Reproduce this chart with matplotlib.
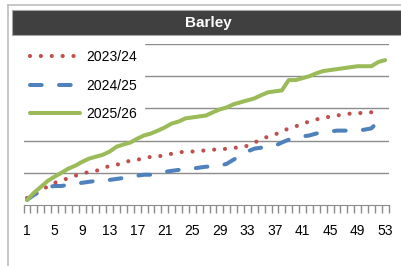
import numpy as np
import matplotlib.pyplot as plt
from matplotlib.patches import Rectangle
from matplotlib.lines import Line2D

plt.rcParams['font.family'] = ['Liberation Sans', 'DejaVu Sans']

title = 'Barley'
labels = ['2023/24', '2024/25', '2025/26']

weeks_2324 = list(range(1, 53))
vals_2324 = [0.22, 0.38, 0.50, 0.56, 0.69, 0.75, 0.84, 0.91, 0.97, 1.03,
             1.06, 1.13, 1.22, 1.25, 1.31, 1.38, 1.41, 1.44, 1.50, 1.50,
             1.56, 1.59, 1.63, 1.66, 1.66, 1.69, 1.69, 1.72, 1.72, 1.75,
             1.78, 1.78, 1.84, 1.94, 2.03, 2.13, 2.19, 2.28, 2.38, 2.44,
             2.53, 2.59, 2.66, 2.69, 2.75, 2.78, 2.81, 2.84, 2.84, 2.88,
             2.88, 2.91]

weeks_2425 = list(range(1, 53))
vals_2425 = [0.16, 0.31, 0.44, 0.56, 0.59, 0.59, 0.63, 0.66, 0.69, 0.72,
             0.75, 0.75, 0.78, 0.81, 0.84, 0.88, 0.91, 0.94, 0.94, 0.97,
             1.03, 1.06, 1.09, 1.09, 1.13, 1.16, 1.19, 1.19, 1.22, 1.28,
             1.41, 1.53, 1.66, 1.75, 1.78, 1.81, 1.84, 1.94, 2.03, 2.06,
             2.13, 2.16, 2.22, 2.25, 2.28, 2.31, 2.31, 2.31, 2.31, 2.34,
             2.38, 2.60]

weeks_2526 = list(range(1, 54))
vals_2526 = [0.16, 0.38, 0.56, 0.75, 0.88, 1.00, 1.13, 1.22, 1.34, 1.44,
             1.50, 1.56, 1.66, 1.81, 1.88, 1.94, 2.06, 2.16, 2.22, 2.31,
             2.41, 2.53, 2.59, 2.69, 2.72, 2.75, 2.78, 2.88, 2.97, 3.03,
             3.13, 3.19, 3.25, 3.31, 3.41, 3.50, 3.53, 3.56, 3.88, 3.88,
             3.94, 4.00, 4.09, 4.16, 4.19, 4.22, 4.25, 4.28, 4.31, 4.31,
             4.31, 4.44, 4.50]

xticks = list(range(1, 54, 4))

red = '#C0504D'
blue = '#4F81BD'
green = '#9BBB59'
grid_c = '#8C8C8C'

fig = plt.figure(figsize=(4.02, 2.66), dpi=100)
W, H = 402, 266

# chart frame and title bar
fig.add_artist(Line2D([8 / W, 8 / W], [0, 1 - 5 / H], color='#BFBFBF', lw=1.2))
fig.add_artist(Line2D([8 / W, 1], [1 - 5 / H, 1 - 5 / H], color='#BFBFBF', lw=1.2))
fig.add_artist(Rectangle((12 / W, 1 - 35 / H), 1, 25 / H, facecolor='#404040',
                         edgecolor='#A6A6A6', lw=0.8))
fig.text(208 / W, 1 - 22.5 / H, title, color='white', fontsize=11,
         fontweight='bold', ha='center', va='center')

ax = fig.add_axes([23.6 / W, (H - 205) / H, 365 / W, 161 / H])

ax.plot(weeks_2526, vals_2526, color=green, lw=2.9, solid_capstyle='round',
        label=labels[2], zorder=3)
ax.plot(weeks_2425, vals_2425, color=blue, lw=2.9, linestyle=(0, (2.9, 4.3)),
        dash_capstyle='round', label=labels[1], zorder=2)
ax.plot(weeks_2324, vals_2324, color=red, lw=3.0, linestyle=(0, (0.01, 2.6)),
        dash_capstyle='round', label=labels[0], zorder=2)

ax.set_xlim(0.5, 53.5)
ax.set_ylim(0, 5)
ax.set_yticks([1, 2, 3, 4, 5])
ax.yaxis.grid(True, color=grid_c, lw=1)
ax.set_axisbelow(True)
ax.tick_params(axis='y', left=False, labelleft=False)

ax.set_xticks(xticks)
ax.set_xticklabels([str(t) for t in xticks], fontsize=10)
ax.set_xticks(np.arange(0.5, 54, 1), minor=True)
ax.tick_params(axis='x', which='major', length=0, pad=13.5)
ax.tick_params(axis='x', which='minor', length=6, color=grid_c, width=1,
               direction='out')

for s in ['top', 'right', 'left']:
    ax.spines[s].set_visible(False)
ax.spines['bottom'].set_color(grid_c)

handles, labs = ax.get_legend_handles_labels()
order = [2, 1, 0]
leg = ax.legend([handles[i] for i in order], [labs[i] for i in order],
                loc='upper left', bbox_to_anchor=(-0.001, 1.005), fontsize=10,
                frameon=True, fancybox=False, edgecolor='white',
                facecolor='white', framealpha=1, handlelength=3.6,
                handletextpad=0.45, labelspacing=1.05, borderpad=0.5,
                borderaxespad=0)

fig.savefig('out.png', dpi=100)
